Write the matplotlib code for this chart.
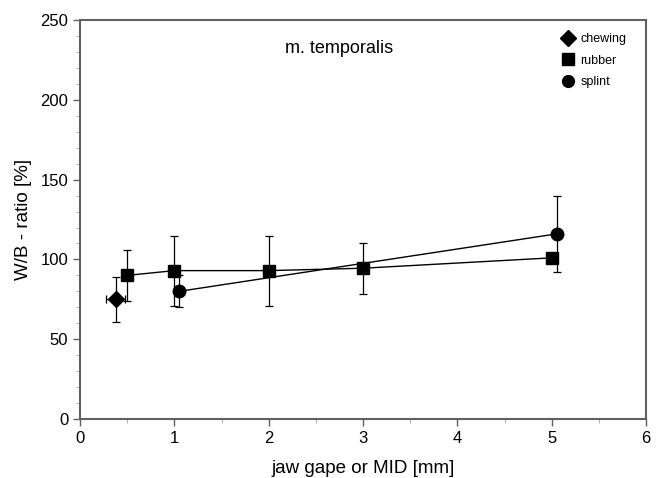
import numpy as np
from matplotlib import pyplot as plt
from matplotlib.ticker import MultipleLocator
from matplotlib.lines import Line2D

plt.rcParams['font.family'] = ['Liberation Sans', 'DejaVu Sans']

# values
chew_x = [0.38]
chew_y = [75]
chew_yerr = [14]
chew_xerr = [0.1]

rubber_x = [0.5, 1.0, 2.0, 3.0, 5.0]
rubber_y = [90, 93, 93, 94.5, 101]
rubber_yerr = [16, 22, 22, 16, 0]

splint_x = [1.05, 5.05]
splint_y = [80, 116]
splint_yerr = [10, 24]

series_names = ['chewing', 'rubber', 'splint']
series_markers = ['D', 's', 'o']

spine_col = '#606060'

fig = plt.figure(figsize=(6.56, 4.78), dpi=100)
ax = fig.add_axes([0.122, 0.1234, 0.863, 0.8346])

ax.errorbar(chew_x, chew_y, yerr=chew_yerr, xerr=chew_xerr, fmt='D', color='black',
            markersize=8.5, elinewidth=0.9, capsize=3, capthick=0.9)
ax.errorbar(rubber_x, rubber_y, yerr=rubber_yerr, fmt='s-', color='black',
            markersize=8.5, linewidth=1.0, elinewidth=0.9, capsize=3, capthick=0.9)
ax.errorbar(splint_x, splint_y, yerr=splint_yerr, fmt='o-', color='black',
            markersize=9, linewidth=1.0, elinewidth=0.9, capsize=3, capthick=0.9)

ax.set_xlim(0, 6)
ax.set_ylim(0, 250)
ax.xaxis.set_major_locator(MultipleLocator(1))
ax.xaxis.set_minor_locator(MultipleLocator(0.5))
ax.yaxis.set_major_locator(MultipleLocator(50))
ax.yaxis.set_minor_locator(MultipleLocator(10))

for s in ax.spines.values():
    s.set_color(spine_col)
    s.set_linewidth(1.5)
ax.tick_params(which='major', direction='out', length=5, width=1, color=spine_col, labelsize=12)
ax.tick_params(which='minor', direction='out', length=3, width=0.7, color='#b0b0b0')

ax.set_xlabel('jaw gape or MID [mm]', fontsize=13.5, labelpad=10)
ax.set_ylabel('W/B - ratio [%]', fontsize=13.5, labelpad=6)

ax.text(2.75, 232, 'm. temporalis', fontsize=13, ha='center', va='center')

handles = [Line2D([], [], linestyle='none', marker=m, color='black', markersize=8.5)
           for m in series_markers]
ax.legend(handles, series_names, loc='upper right', frameon=False, fontsize=9,
          handletextpad=0.4, labelspacing=0.75, handlelength=1.2,
          bbox_to_anchor=(0.985, 0.995))

fig.savefig('out.png', dpi=100)
